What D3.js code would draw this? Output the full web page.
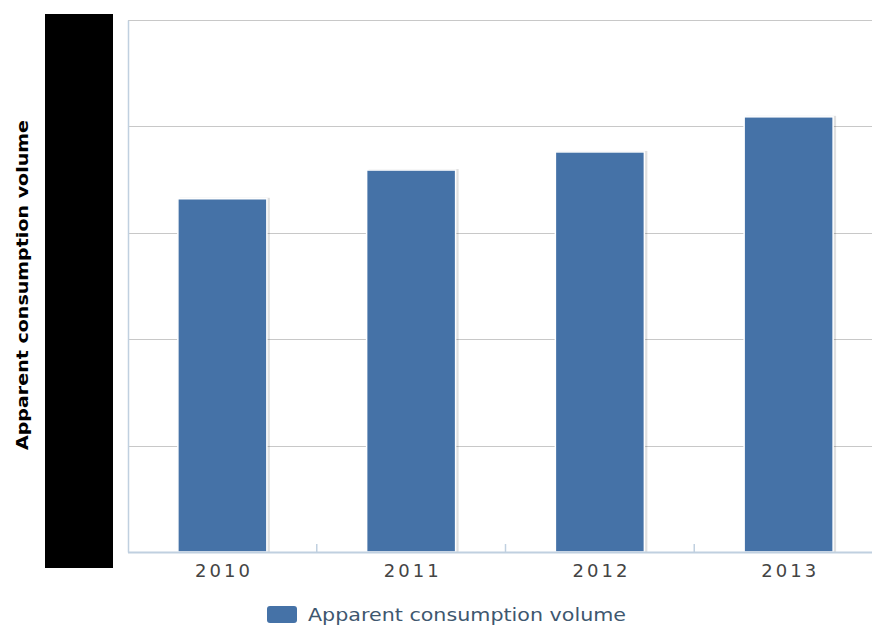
<!DOCTYPE html>
<html><head><meta charset="utf-8">
<script src="https://cdn.jsdelivr.net/npm/d3@7"></script>
<style>html,body{margin:0;padding:0;background:#fff;overflow:hidden}</style>
</head><body>
<svg id="c" width="872" height="625"></svg>
<script>
const categories = ["2010", "2011", "2012", "2013"];
const values = [332, 359, 376, 409];
const yTicks = [0, 100, 200, 300, 400, 500];
const seriesName = "Apparent consumption volume";

const svg = d3.select("#c");
const W = 872, H = 625;
const xb = d3.scaleBand().domain(categories).range([128, 883]);
const barW = 89;
const bx = d => xb(d) + (xb.bandwidth() - barW) / 2;
const y = d3.scaleLinear().domain([0, 500]).range([552, 20]);

// gridlines
svg.append("g").selectAll("line").data(yTicks.slice(1)).join("line")
  .attr("x1", 128).attr("x2", W).attr("y1", d => Math.round(y(d)) + 0.5).attr("y2", d => Math.round(y(d)) + 0.5)
  .attr("stroke", "#C8C8C8").attr("stroke-width", 1.2);

// y axis (labels hidden beneath redaction)
const ya = svg.append("g").attr("transform", "translate(128,0)")
  .call(d3.axisLeft(y).tickValues(yTicks).tickSize(0).tickPadding(20));
ya.select(".domain").attr("stroke", "#C0D0E0").attr("stroke-width", 1.5);
ya.selectAll("text").attr("font-family", "DejaVu Sans").attr("font-size", 15).attr("fill", "#333").attr("dy", "0.6em");

// bars with shadow
const bars = svg.append("g");
bars.selectAll("rect.sh").data(values).join("rect").attr("class", "sh")
  .attr("x", (d, i) => bx(categories[i]) + 2).attr("y", d => y(d) - 1)
  .attr("width", barW + 1).attr("height", d => y(0) - y(d) + 1)
  .attr("fill", "#000").attr("opacity", 0.12);
bars.selectAll("rect.b").data(values).join("rect").attr("class", "b")
  .attr("x", (d, i) => bx(categories[i])).attr("y", d => y(d))
  .attr("width", barW).attr("height", d => y(0) - y(d))
  .attr("fill", "#4572A7").attr("stroke", "#fff").attr("stroke-width", 1.5);

// x axis
const xg = svg.append("g").attr("transform", `translate(0,${y(0)})`);
xg.append("line").attr("x1", 128).attr("x2", W).attr("y1", 0.5).attr("y2", 0.5)
  .attr("stroke", "#C0D0E0").attr("stroke-width", 2);
xg.selectAll("line.t").data(categories.slice(1)).join("line").attr("class", "t")
  .attr("x1", d => xb(d)).attr("x2", d => xb(d)).attr("y1", 0).attr("y2", -8)
  .attr("stroke", "#C0D0E0").attr("stroke-width", 1.5);
xg.selectAll("text").data(categories).join("text")
  .attr("x", d => xb(d) + xb.bandwidth() / 2).attr("y", 25)
  .attr("text-anchor", "middle").attr("font-family", "DejaVu Sans").attr("font-size", 18)
  .attr("fill", "#444").attr("textLength", 55).attr("lengthAdjust", "spacing").text(d => d);

// redaction box
svg.append("rect").attr("x", 45).attr("y", 14).attr("width", 68).attr("height", 554).attr("fill", "#000");

// y title
svg.append("text").attr("transform", "translate(28,285) rotate(-90)")
  .attr("text-anchor", "middle").attr("font-family", "DejaVu Sans").attr("font-weight", "bold")
  .attr("font-size", 15).attr("fill", "#000").attr("textLength", 330).attr("lengthAdjust", "spacingAndGlyphs")
  .text(seriesName);

// legend
const lg = svg.append("g");
lg.append("rect").attr("x", 267).attr("y", 606).attr("width", 30).attr("height", 17).attr("rx", 3)
  .attr("fill", "#4572A7");
lg.append("text").attr("x", 308).attr("y", 621).attr("font-family", "DejaVu Sans").attr("font-size", 17)
  .attr("fill", "#3E576F").attr("textLength", 318).attr("lengthAdjust", "spacingAndGlyphs").text(seriesName);
</script>
</body></html>
